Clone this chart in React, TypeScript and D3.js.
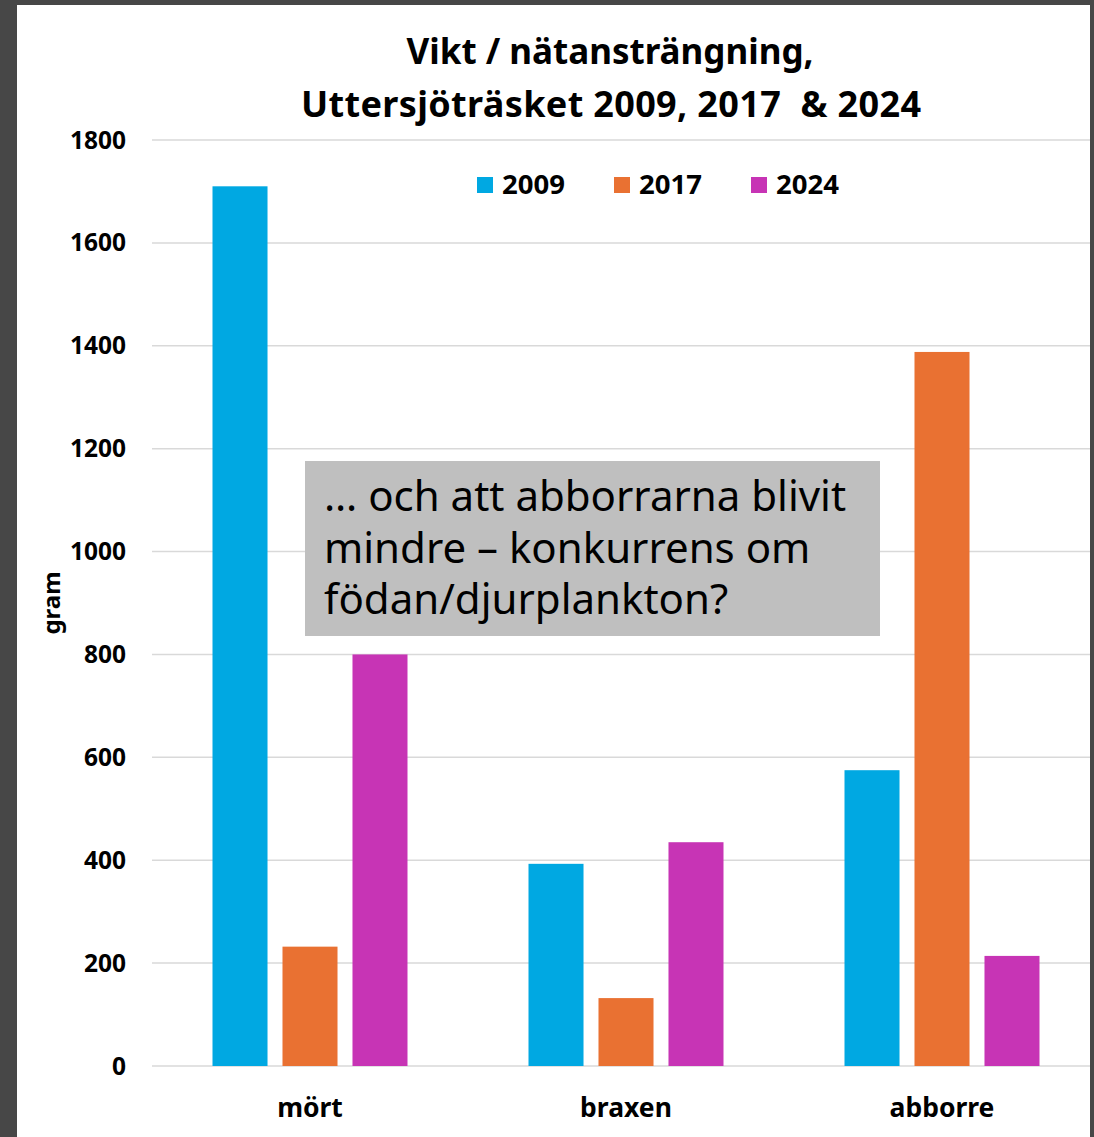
import React from 'react';
import * as d3 from 'd3';

const categories = ['mört', 'braxen', 'abborre'];
const years = ['2009', '2017', '2024'];
const values2009 = [1710, 393, 575];
const values2017 = [232, 132, 1388];
const values2024 = [800, 435, 214];
const yTicks = [0, 200, 400, 600, 800, 1000, 1200, 1400, 1600, 1800];
const colors = ['#00a8e2', '#e97132', '#c734b5'];
const noteLines = ['… och att abborrarna blivit', 'mindre – konkurrens om', 'födan/djurplankton?'];

const W = 1094;
const H = 1137;
const FONT = '"Noto Sans", "Open Sans", sans-serif';

const App = () => {
  const series = [values2009, values2017, values2024];

  const x = d3.scaleBand<string>().domain(categories).range([152, 1100]).paddingInner(0).paddingOuter(0);
  const inner = d3.scaleBand<string>().domain(years).range([60.5, 255.5]).paddingInner(0.214);
  const y = d3.scaleLinear().domain([0, 1800]).range([1066, 140]);

  return (
    <svg width={W} height={H} style={{ position: 'absolute', left: 0, top: 0 }} fontFamily={FONT}>
      <rect x={0} y={0} width={W} height={H} fill="#474747" />
      <rect x={17} y={5} width={1073} height={H - 5} fill="#ffffff" />

      {/* grid */}
      {yTicks.map((t) => (
        <line key={t} x1={152} x2={1090} y1={y(t)} y2={y(t)} stroke="#d9d9d9" strokeWidth={1.5} />
      ))}
      {yTicks.map((t) => (
        <text key={'l' + t} x={126} y={y(t)} dy="0.35em" textAnchor="end" fontSize={24.5} fontWeight="bold" fill="#000">
          {t}
        </text>
      ))}
      <text transform="translate(52,603) rotate(-90)" textAnchor="middle" dy="0.35em" fontSize={24} fontWeight="bold">
        gram
      </text>

      {/* bars */}
      {categories.map((c, ci) => (
        <g key={c} transform={`translate(${x(c)},0)`}>
          {series.map((s, si) => (
            <rect
              key={si}
              x={inner(years[si])}
              y={y(s[ci])}
              width={inner.bandwidth()}
              height={y(0) - y(s[ci])}
              fill={colors[si]}
            />
          ))}
          <text x={x.bandwidth() / 2} y={1117} textAnchor="middle" fontSize={26.5} fontWeight="bold">
            {c}
          </text>
        </g>
      ))}

      {/* title */}
      <text x={610} y={64} textAnchor="middle" fontSize={35} fontWeight="bold">
        Vikt / nätansträngning,
      </text>
      <text
        x={611}
        y={117}
        textAnchor="middle"
        fontSize={36}
        fontWeight="bold"
        textLength={620}
        lengthAdjust="spacing"
        style={{ whiteSpace: 'pre' }}
      >
        {'Uttersjöträsket 2009, 2017  & 2024'}
      </text>

      {/* legend */}
      {years.map((yr, i) => {
        const lx = [477, 614, 751][i];
        return (
          <g key={yr} transform={`translate(${lx},185)`}>
            <rect x={0} y={-8} width={16} height={16} fill={colors[i]} />
            <text x={25} y={0} dy="0.33em" fontSize={27.5} fontWeight="bold">
              {yr}
            </text>
          </g>
        );
      })}

      {/* annotation */}
      <rect x={305} y={461} width={575} height={175} fill="#bfbfbf" />
      <text fontSize={42} fill="#000">
        {noteLines.map((ln, i) => (
          <tspan key={i} x={324} y={511 + i * 51.5}>
            {ln}
          </tspan>
        ))}
      </text>
    </svg>
  );
};

export default App;
